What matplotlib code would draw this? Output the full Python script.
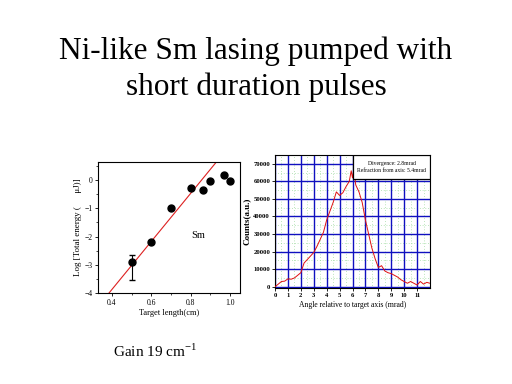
import matplotlib
matplotlib.use("Agg")
import matplotlib.pyplot as plt
from matplotlib.patches import Rectangle
import numpy as np

# Left panel data
length_cm = [0.5, 0.6, 0.7, 0.8, 0.86, 0.9, 0.97, 1.0]
log_energy = [-2.9, -2.18, -1.0, -0.28, -0.36, -0.02, 0.18, -0.05]
err_low = [0.65, 0, 0, 0, 0, 0, 0, 0]
err_high = [0.25, 0, 0, 0, 0, 0, 0, 0]
fit_x = [0.385, 0.93]
fit_y = [-4.0, 0.64]

# Right panel data
angle = [0, 0.25, 0.5, 0.75, 1.0, 1.25, 1.5, 1.75, 2.0, 2.25, 2.5, 2.75, 3.0, 3.25, 3.5,
         3.75, 4.0, 4.25, 4.5, 4.75, 5.0, 5.25, 5.5, 5.75, 5.9, 6.0, 6.1, 6.25, 6.5, 6.75,
         7.0, 7.25, 7.5, 7.75, 8.0, 8.25, 8.5, 8.75, 9.0, 9.25, 9.5, 9.75, 10.0, 10.25,
         10.5, 10.75, 11.0, 11.25, 11.5, 11.75, 12.0]
counts = [0, 1500, 3000, 3200, 4500, 4300, 5000, 6500, 8000, 13500, 15500, 17500, 19500,
          23000, 27000, 31000, 38000, 43000, 48000, 54000, 52000, 53500, 57000, 60000,
          66000, 62000, 67000, 58000, 54000, 48000, 38000, 30000, 22000, 16000, 11000,
          12000, 9000, 8000, 7500, 6500, 5500, 4000, 3000, 2000, 3000, 2000, 1000, 3000,
          1500, 2500, 2000]

serif = ["Liberation Serif", "DejaVu Serif"]
plt.rcParams["font.family"] = serif
plt.rcParams["mathtext.fontset"] = "custom"
plt.rcParams["mathtext.rm"] = "Liberation Serif"

fig = plt.figure(figsize=(5.12, 3.84), dpi=100)
fig.patch.set_facecolor("white")

fig.text(0.5, 1 - 59/384, "Ni-like Sm lasing pumped with", ha="center", va="baseline", fontsize=22.5)
fig.text(0.5, 1 - 95/384, "short duration pulses", ha="center", va="baseline", fontsize=22.5)
fig.text(113/512, 1 - 357/384, r"Gain 19 cm$^{\mathregular{-1}}$", ha="left", va="baseline",
         fontsize=11)

# Left axes
ax1 = fig.add_axes([98/512, 1 - 293/384, 142/512, 131/384])
ax1.plot(fit_x, fit_y, color="#dd2020", lw=0.8)
ax1.errorbar(length_cm[:1], log_energy[:1], yerr=[err_low[:1], err_high[:1]], fmt="none",
             ecolor="black", elinewidth=0.8, capsize=2.5)
ax1.plot(length_cm, log_energy, "o", color="black", ms=5)
ax1.set_xlim(0.329, 1.05)
ax1.set_ylim(-4.0, 0.64)
ax1.set_xticks([0.4, 0.6, 0.8, 1.0])
ax1.set_xticklabels(["0.4", "0.6", "0.8", "1.0"])
ax1.set_xticks(np.arange(0.4, 1.05, 0.1), minor=True)
ax1.set_yticks([-4, -3, -2, -1, 0])
ax1.set_yticks(np.arange(-4, 0.6, 0.5), minor=True)
ax1.tick_params(labelsize=5.5, length=2.5, width=0.6, pad=1.5)
ax1.tick_params(which="minor", length=1.5, width=0.5)
ax1.text(0.805, -2.06, "Sm", fontsize=7.5, va="baseline")
ax1.set_xlabel("Target length(cm)", fontsize=6, labelpad=2)
ax1.set_ylabel("Log [Total energy (      μJ)]", fontsize=6.5, labelpad=2)
for s in ax1.spines.values():
    s.set_linewidth(0.8)

# Right axes
ax2 = fig.add_axes([275/512, 1 - 288/384, 155/512, 133/384])
for v in np.arange(0.5, 12, 1.0):
    ax2.axvline(v, color="#7ccc7c", lw=0.5, ls=(0, (1, 3)), zorder=0)
for h in np.arange(5000, 75000, 10000):
    ax2.axhline(h, color="#7ccc7c", lw=0.5, ls=(0, (1, 3)), zorder=0)
ax2.grid(True, color="#1010c0", lw=1.0)
ax2.set_axisbelow(True)
ax2.plot(angle, counts, color="#e01010", lw=0.7, zorder=3)
ax2.set_xlim(0, 12)
ax2.set_ylim(-700, 75000)
ax2.set_xticks(range(0, 12))
ax2.set_yticks(range(0, 80000, 10000))
ax2.tick_params(labelsize=4.8, length=2, width=0.6, pad=1.5)
for lab in ax2.get_xticklabels() + ax2.get_yticklabels():
    lab.set_fontweight("bold")
ax2.set_xlabel("Angle relative to target axis (mrad)", fontsize=5.5, labelpad=2)
ax2.set_ylabel("Counts(a.u.)", fontsize=6.5, fontweight="bold", labelpad=2)
ax2.add_patch(Rectangle((0.503, 0.82), 0.497, 0.18, transform=ax2.transAxes,
                        facecolor="white", edgecolor="black", lw=0.9, zorder=5))
ax2.text(0.752, 0.91, "Divergence: 2.8mrad\nRefraction from axis: 5.4mrad",
         transform=ax2.transAxes, ha="center", va="center", fontsize=4.1, linespacing=1.6,
         zorder=6)
for s in ax2.spines.values():
    s.set_linewidth(0.8)

fig.savefig("out.png", dpi=100)
